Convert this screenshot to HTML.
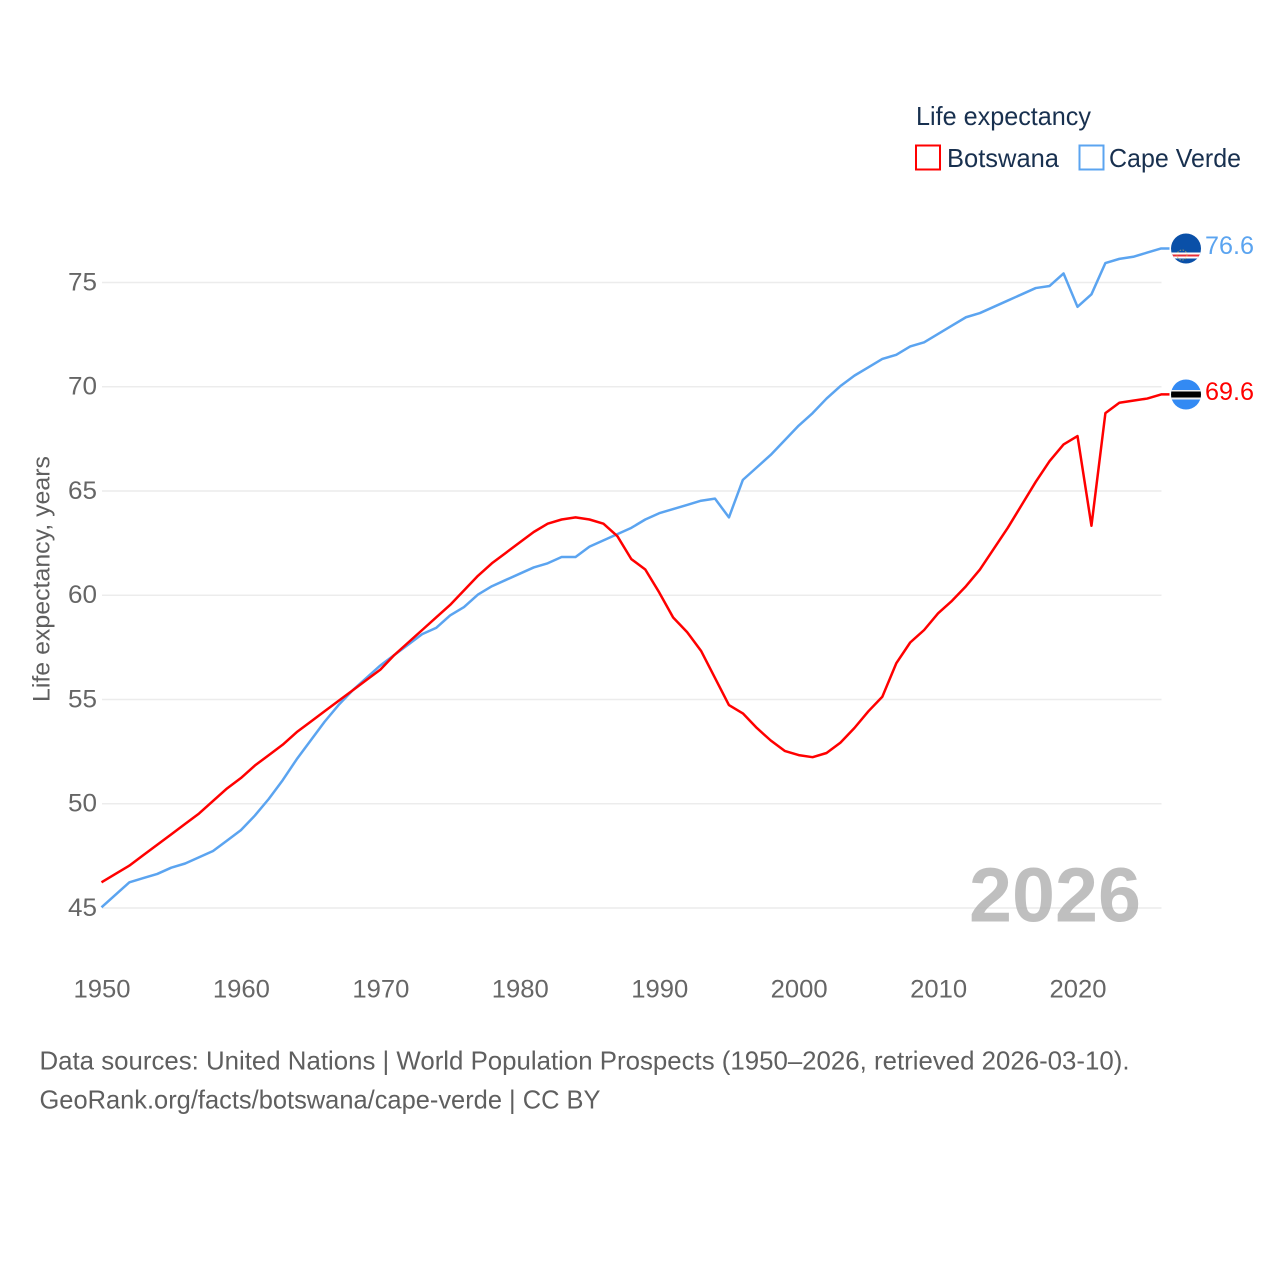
<!DOCTYPE html>
<html lang="en">
<head>
<meta charset="utf-8">
<title>Life expectancy: Botswana and Cape Verde</title>
<style>
html,body{margin:0;padding:0;background:#fff;}
svg{display:block;font-family:"Liberation Sans",sans-serif;}
</style>
</head>
<body>
<svg id="chart" width="1280" height="1280" viewBox="0 0 1280 1280" xmlns="http://www.w3.org/2000/svg">
  <defs>
    <clipPath id="clip-cv"><circle cx="1186" cy="248.5" r="15"></circle></clipPath>
    <clipPath id="clip-bw"><circle cx="1186" cy="394.5" r="15"></circle></clipPath>
  </defs>
  <rect x="0" y="0" width="1280" height="1280" fill="#fff"></rect>
  <g id="grid"></g>
  <g id="y-ticks"></g>
  <g id="x-ticks"></g>
  <text transform="translate(49.5,702) rotate(-90)" font-size="24" fill="#5f5f5f" textLength="246" lengthAdjust="spacingAndGlyphs">Life expectancy, years</text>
  <text x="969" y="921.5" font-size="77" font-weight="700" fill="#aaa" fill-opacity="0.75" textLength="172" lengthAdjust="spacingAndGlyphs">2026</text>
  <g id="series" transform="translate(-0.5,-0.7)"></g>

  <g clip-path="url(#clip-cv)">
    <rect x="1171" y="233" width="30" height="31" fill="#0a50a8"></rect>
    <rect x="1171" y="252.5" width="30" height="6" fill="#fff"></rect>
    <rect x="1171" y="254.5" width="30" height="2" fill="#e8303a"></rect>
    <circle cx="1182" cy="255" r="5" fill="none" stroke="#d8b850" stroke-width="1" stroke-dasharray="1.5 1.5" opacity="0.7"></circle>
  </g>
  <g clip-path="url(#clip-bw)">
    <rect x="1171" y="379" width="30" height="31" fill="#338af3"></rect>
    <rect x="1171" y="390" width="30" height="9.5" fill="#f0f0f0"></rect>
    <rect x="1171" y="391.5" width="30" height="6" fill="#000"></rect>
  </g>
  <text id="label-cv" x="1205" y="254" font-size="25" fill="#5ba4f0" textLength="49" lengthAdjust="spacingAndGlyphs"></text>
  <text id="label-bw" x="1205" y="400" font-size="25" fill="#ff0000" textLength="49" lengthAdjust="spacingAndGlyphs"></text>

  <g>
    <text x="916" y="125" font-size="26" fill="#18304f" textLength="175" lengthAdjust="spacingAndGlyphs">Life expectancy</text>
    <rect x="916" y="145.5" width="24" height="24" fill="none" stroke="#ff0000" stroke-width="2"></rect>
    <text x="947" y="167" font-size="26" fill="#18304f" textLength="112" lengthAdjust="spacingAndGlyphs">Botswana</text>
    <rect x="1079.5" y="145.5" width="24" height="24" fill="none" stroke="#5ba4f0" stroke-width="2"></rect>
    <text x="1109" y="167" font-size="26" fill="#18304f" textLength="132" lengthAdjust="spacingAndGlyphs">Cape Verde</text>
  </g>
  <text x="39.5" y="1069.5" font-size="26" fill="#5f5f5f" textLength="1090" lengthAdjust="spacingAndGlyphs">Data sources: United Nations | World Population Prospects (1950–2026, retrieved 2026-03-10).</text>
  <a><text x="39.5" y="1108.5" font-size="26" fill="#5f5f5f" textLength="561" lengthAdjust="spacingAndGlyphs">GeoRank.org/facts/botswana/cape-verde | CC BY</text></a>
</svg>
<script>
var startYear = 1950;
var botswanaValues = [46.2,46.6,47.0,47.5,48.0,48.5,49.0,49.5,50.1,50.7,51.2,51.8,52.3,52.8,53.4,53.9,54.4,54.9,55.4,55.9,56.4,57.1,57.7,58.3,58.9,59.5,60.2,60.9,61.5,62.0,62.5,63.0,63.4,63.6,63.7,63.6,63.4,62.8,61.7,61.2,60.1,58.9,58.2,57.3,56.0,54.7,54.3,53.6,53.0,52.5,52.3,52.2,52.4,52.9,53.6,54.4,55.1,56.7,57.7,58.3,59.1,59.7,60.4,61.2,62.2,63.2,64.3,65.4,66.4,67.2,67.6,63.3,68.7,69.2,69.3,69.4,69.6];
var capeVerdeValues = [45.0,45.6,46.2,46.4,46.6,46.9,47.1,47.4,47.7,48.2,48.7,49.4,50.2,51.1,52.1,53.0,53.9,54.7,55.4,56.0,56.6,57.1,57.6,58.1,58.4,59.0,59.4,60.0,60.4,60.7,61.0,61.3,61.5,61.8,61.8,62.3,62.6,62.9,63.2,63.6,63.9,64.1,64.3,64.5,64.6,63.7,65.5,66.1,66.7,67.4,68.1,68.7,69.4,70.0,70.5,70.9,71.3,71.5,71.9,72.1,72.5,72.9,73.3,73.5,73.8,74.1,74.4,74.7,74.8,75.4,73.8,74.4,75.9,76.1,76.2,76.4,76.6];
var yTickLabels = [45,50,55,60,65,70,75];
var xTickLabels = [1950,1960,1970,1980,1990,2000,2010,2020];

var NS = 'http://www.w3.org/2000/svg';
function xScale(year){ return 102 + (year - 1950) * 13.943; }
function yScale(v){ return 908 - (v - 45) * 20.85; }
var gridEl = document.getElementById('grid');
var yEl = document.getElementById('y-ticks');
var xEl = document.getElementById('x-ticks');
var seriesEl = document.getElementById('series');

yTickLabels.forEach(function(v){
  var line = document.createElementNS(NS,'line');
  
  
  line.setAttribute('x1', xScale(1950));
  line.setAttribute('x2', 1161.5);
  line.setAttribute('y1', yScale(v));
  line.setAttribute('y2', yScale(v));
  line.setAttribute('stroke', '#ececec');
  line.setAttribute('stroke-width', '1.5');
  gridEl.appendChild(line);
  var t = document.createElementNS(NS,'text');
  
  
  t.setAttribute('x', 97);
  t.setAttribute('y', yScale(v) + 7.8);
  t.setAttribute('text-anchor', 'end');
  t.setAttribute('font-size', '25');
  t.setAttribute('fill', '#666');
  t.setAttribute('textLength', '29');
  t.setAttribute('lengthAdjust', 'spacingAndGlyphs');
  t.textContent = v;
  yEl.appendChild(t);
});
xTickLabels.forEach(function(y){
  var t = document.createElementNS(NS,'text');
  
  
  t.setAttribute('x', xScale(y));
  t.setAttribute('y', 997.5);
  t.setAttribute('text-anchor', 'middle');
  t.setAttribute('font-size', '25');
  t.setAttribute('fill', '#666');
  t.setAttribute('textLength', '57');
  t.setAttribute('lengthAdjust', 'spacingAndGlyphs');
  t.textContent = y;
  xEl.appendChild(t);
});
function linePoints(values){
  var pts = values.map(function(v,i){ return xScale(startYear + i).toFixed(2) + ',' + yScale(v).toFixed(2); });
  pts.push('1170,' + yScale(values[values.length-1]).toFixed(2));
  return pts.join(' ');
}
var capeLine = document.createElementNS(NS,'polyline');


capeLine.setAttribute('points', linePoints(capeVerdeValues));
capeLine.setAttribute('fill', 'none');
capeLine.setAttribute('stroke', '#5ba4f0');
capeLine.setAttribute('stroke-width', '2.5');
capeLine.setAttribute('stroke-linejoin', 'round');
seriesEl.appendChild(capeLine);
var botsLine = document.createElementNS(NS,'polyline');


botsLine.setAttribute('points', linePoints(botswanaValues));
botsLine.setAttribute('fill', 'none');
botsLine.setAttribute('stroke', '#ff0000');
botsLine.setAttribute('stroke-width', '2.5');
botsLine.setAttribute('stroke-linejoin', 'round');
seriesEl.appendChild(botsLine);
document.getElementById('label-cv').textContent = capeVerdeValues[capeVerdeValues.length-1].toFixed(1);
document.getElementById('label-bw').textContent = botswanaValues[botswanaValues.length-1].toFixed(1);
</script>
</body>
</html>
